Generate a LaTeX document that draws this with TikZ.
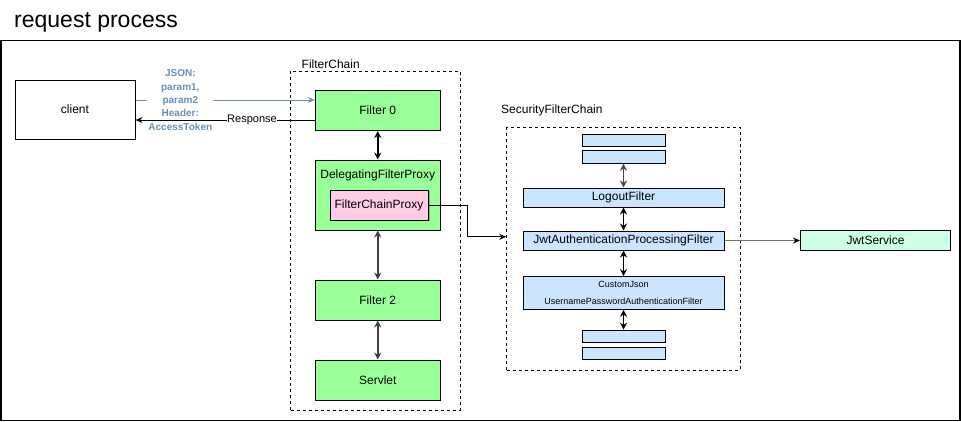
\documentclass[tikz,border=0pt]{standalone}
\usepackage{fontspec}
\setmainfont{Liberation Sans}
\usetikzlibrary{arrows.meta,shadows}
\definecolor{fgreen}{HTML}{99FF99}
\definecolor{fblue}{HTML}{CCE5FF}
\definecolor{fpink}{HTML}{FFCCE6}
\definecolor{fmint}{HTML}{CCFFE6}
\definecolor{tblue}{HTML}{6C8EBF}
\begin{document}
\begin{tikzpicture}[x=1pt,y=-1pt,
  box/.style={draw, line width=1pt, rectangle, inner sep=0pt, align=center, font=\fontsize{12}{14}\selectfont},
  gbox/.style={box, fill=fgreen, minimum width=125pt, minimum height=40pt},
  bbox/.style={box, fill=fblue, minimum width=201pt, minimum height=19pt},
  sbox/.style={box, fill=fblue, minimum width=83pt, minimum height=12.4pt},
  dbox/.style={draw, line width=0.9pt, dash pattern=on 3pt off 3pt, rectangle, inner sep=0pt},
  lbl/.style={inner sep=0pt, font=\fontsize{12}{14}\selectfont},
  dbl/.style={line width=1.6pt, {Stealth[length=7pt,width=7pt]}-{Stealth[length=7pt,width=7pt]}},
  one/.style={line width=1pt, -{Stealth[length=7pt,width=6pt]}}
]
\useasboundingbox (0,0) rectangle (961,421);
\node[lbl, anchor=base west, font=\fontsize{23}{27}\selectfont] (title) at (14,27) {request process};
\node[draw, line width=1.2pt, rectangle, inner sep=0pt, minimum width=959pt, minimum height=379.5pt] (frame) at (480.5,230.5) {};

% containers
\node[dbox, minimum width=169.3pt, minimum height=339pt] (fc) at (375.35,240.5) {};
\node[lbl, anchor=west] (fclbl) at (301.5,64.5) {FilterChain};
\node[dbox, minimum width=233.3pt, minimum height=242.3pt] (sfc) at (623.35,248.85) {};
\node[lbl, anchor=west] (sfclbl) at (501,110.5) {SecurityFilterChain};

% left side
\node[box, minimum width=120pt, minimum height=59pt] (client) at (75,109.5) {client};
\node[gbox] (f0) at (377.75,110.5) {Filter 0};
\node[gbox, minimum height=70pt] (dfp) at (377.75,195) {};
\node[lbl] (dfptxt) at (377.75,175.5) {DelegatingFilterProxy};
\node[box, fill=fpink, minimum width=98pt, minimum height=30pt, drop shadow={shadow xshift=1.5pt, shadow yshift=-1pt, opacity=0.5, fill=black!60}] (fcp) at (379,205) {FilterChainProxy};
\node[gbox] (f2) at (377.75,300) {Filter 2};
\node[gbox] (srv) at (377.75,380) {Servlet};

% security filter chain
\node[sbox] (s1) at (623.5,140.2) {};
\node[sbox] (s2) at (623.5,157) {};
\node[bbox] (logout) at (623.5,197.5) {LogoutFilter};
\node[bbox] (jwt) at (623.5,240.5) {JwtAuthenticationProcessingFilter};
\node[bbox, minimum height=32.6pt, font=\fontsize{9}{16.5}\selectfont] (cj) at (623.5,293) {CustomJson\\UsernamePasswordAuthenticationFilter};
\node[sbox] (s3) at (623.5,336.4) {};
\node[sbox] (s4) at (623.5,353.2) {};
\node[box, fill=fmint, minimum width=150pt, minimum height=20pt] (jsvc) at (875.5,240) {JwtService};

% connectors
\draw[one, draw=tblue, -{Stealth[length=7pt,width=6pt,color=tblue]}] ([yshift=9.5pt]client.east) -- ([yshift=9.5pt]client.east -| f0.west)
  node[pos=0.25, fill=white, inner sep=1pt, text=tblue, align=center, font=\bfseries\fontsize{10}{13.3}\selectfont] (json) {JSON:\\param1,\\param2\\Header:\\AccessToken};
\draw[one] ([yshift=-9.5pt]f0.west) -- ([yshift=-9.5pt]f0.west -| client.east)
  node[pos=0.35, fill=white, inner sep=0.5pt, font=\fontsize{11}{13}\selectfont] (resp) {Response};

\draw[dbl] (f0.south) -- (dfp.north);
\draw[dbl, draw=black!75] (dfp.south) -- (f2.north);
\draw[dbl, draw=black!75] (f2.south) -- (srv.north);

\coordinate (bend) at (467.5,236.8);
\draw[one] (fcp.east) -| (bend) -- (bend -| sfc.west);

\draw[dbl, line width=1.3pt, draw=black!70] (s2.south) -- (logout.north);
\draw[dbl] (logout.south) -- (jwt.north);
\draw[dbl] (jwt.south) -- (cj.north);
\draw[dbl] (cj.south) -- (s3.north);

\draw[line width=1.3pt, draw=black!55, -{Stealth[length=7pt,width=6pt,color=black]}] (jwt.east) -- (jwt.east -| jsvc.west);
\end{tikzpicture}
\end{document}
